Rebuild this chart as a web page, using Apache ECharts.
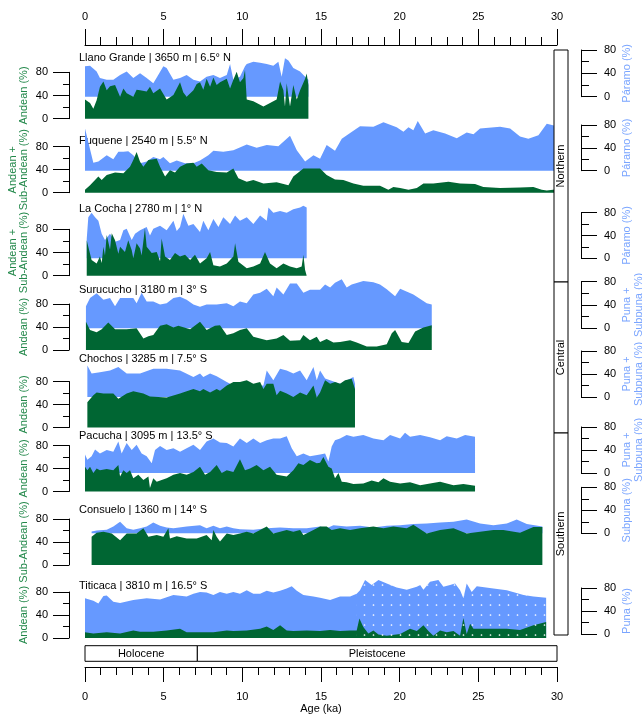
<!DOCTYPE html>
<html><head><meta charset="utf-8">
<script src="https://cdn.jsdelivr.net/npm/echarts/dist/echarts.min.js"></script>
<style>html,body{margin:0;padding:0;background:#fff}#chart{width:642px;height:715px}</style>
</head><body><div id="chart"></div>
<script>
// ---------------- DATA (age ka, percent) ----------------
const siteTitles = ['Llano Grande | 3650 m | 6.5° N','Fuquene | 2540 m | 5.5° N','La Cocha | 2780 m | 1° N','Surucucho | 3180 m | 3° S','Chochos | 3285 m | 7.5° S','Pacucha | 3095 m | 13.5° S','Consuelo | 1360 m | 14° S','Titicaca | 3810 m | 16.5° S'];
const leftNames = ['Andean (%)','Andean +\nSub-Andean (%)','Andean +\nSub-Andean (%)','Andean (%)','Andean (%)','Andean (%)','Sub-Andean (%)','Andean (%)'];
const rightNames = ['Páramo (%)','Páramo (%)','Páramo (%)','Puna +\nSubpuna (%)','Puna +\nSubpuna (%)','Puna +\nSubpuna (%)','Subpuna (%)','Puna (%)'];
const regionNames = ['Northern','Central','Southern'];
const epochNames = ['Holocene','Pleistocene'];
const epochStart = [0, 7.14];
const epochEnd = [7.14, 30];
const axisTicks = [0,5,10,15,20,25,30];

const llanoAndean = [[0,33],[0.32,27],[0.53,17],[0.74,32],[0.95,55],[1.17,64],[1.38,49],[1.59,56],[1.91,58],[2.23,38],[2.44,52],[2.65,44],[3.07,38],[3.28,50],[3.50,49],[3.92,47],[4.13,55],[4.34,44],[4.77,52],[5.19,33],[5.62,41],[6.04,63],[6.25,45],[6.46,38],[6.89,49],[7.10,60],[7.31,63],[7.52,50],[7.73,69],[7.95,55],[8.16,71],[8.37,58],[8.58,63],[9.01,69],[9.22,52],[9.43,67],[9.64,81],[9.85,63],[10.07,70],[10.17,84],[10.28,33],[10.70,30],[11.34,21],[11.76,27],[12.18,33],[12.40,64],[12.61,49],[12.71,21],[12.82,61],[13.03,21],[13.24,58],[13.46,33],[13.67,49],[13.99,69],[14.09,78],[14.20,58]];
const llanoParamo = [[0,52],[0.32,53],[0.74,43],[0.95,32],[1.38,29],[1.80,29],[2.23,37],[2.65,43],[3.07,32],[3.50,40],[3.92,32],[4.34,23],[4.56,33],[4.98,52],[5.19,49],[5.62,29],[6.04,32],[6.46,37],[6.89,29],[7.31,26],[7.73,34],[8.16,37],[8.58,32],[9.01,37],[9.22,56],[9.43,29],[9.85,34],[10.17,52],[10.28,56],[10.70,60],[11.13,58],[11.55,56],[11.97,53],[12.29,60],[12.50,34],[12.71,66],[12.93,62],[13.24,49],[13.67,43],[13.99,34],[14.20,29]];

const fuqueneAndean = [[0,5],[0.32,13],[0.85,28],[1.06,22],[1.38,31],[1.91,35],[2.44,34],[2.86,45],[3.07,57],[3.28,71],[3.50,54],[3.71,45],[4.03,57],[4.56,59],[4.77,45],[5.09,28],[5.40,39],[5.72,35],[6.04,45],[6.46,51],[6.89,52],[7.10,45],[7.42,51],[7.84,39],[8.37,36],[9.01,35],[9.43,42],[9.75,25],[10.28,19],[10.70,22],[11.34,16],[12.18,18],[12.93,13],[13.24,28],[13.88,42],[14.94,42],[15.36,31],[15.89,23],[16.42,22],[17.06,16],[17.69,12],[18.75,12],[19.28,5],[19.60,10],[20.03,8],[20.56,5],[21.09,8],[21.51,16],[22.14,16],[23.10,19],[23.84,16],[24.79,15],[25.32,10],[26.38,8],[27.65,9],[28.50,10],[29.03,5],[29.35,4],[30,6]];
const fuqueneParamo = [[0,74],[0.53,14],[0.85,16],[1.38,27],[1.80,20],[2.12,33],[2.44,33],[2.75,34],[3.07,27],[3.50,13],[3.92,16],[4.34,24],[4.77,20],[4.98,24],[5.40,13],[5.83,18],[6.36,13],[6.89,13],[7.31,18],[7.84,27],[8.16,35],[8.79,33],[9.43,36],[10.28,46],[10.91,40],[11.55,45],[12.29,43],[13.03,61],[13.46,36],[13.99,16],[14.52,27],[14.94,21],[15.36,45],[15.89,35],[16.32,56],[16.85,66],[17.48,78],[18.33,77],[18.97,85],[19.81,76],[20.24,68],[20.56,76],[20.87,71],[21.15,87],[21.62,65],[22.14,71],[22.89,65],[23.63,57],[24.26,67],[24.69,64],[25.11,74],[26.38,77],[27.02,74],[27.65,60],[28.18,56],[28.82,62],[29.35,82],[30,78]];

const cochaAndean = [[0.11,61],[0.21,50],[0.42,27],[0.74,21],[0.95,33],[1.06,22],[1.17,50],[1.27,35],[1.38,70],[1.59,45],[1.70,73],[1.91,61],[2.12,38],[2.23,50],[2.54,41],[2.75,61],[2.97,44],[3.07,30],[3.28,56],[3.50,47],[3.60,35],[3.81,82],[3.92,50],[4.24,39],[4.56,41],[4.77,25],[4.87,64],[5.09,33],[5.40,27],[5.72,39],[6.04,33],[6.36,36],[6.68,27],[6.99,36],[7.31,21],[7.73,30],[7.95,41],[8.16,18],[8.58,16],[9.01,21],[9.43,33],[9.54,56],[9.75,24],[10.28,13],[10.70,16],[11.13,21],[11.44,41],[11.76,21],[12.18,13],[12.61,21],[13.03,16],[13.46,13],[13.77,16],[13.88,36],[13.99,10],[14.09,7]];
const cochaParamo = [[0.11,34],[0.21,72],[0.42,80],[0.64,72],[0.85,66],[1.06,43],[1.27,32],[1.59,43],[1.91,29],[2.23,32],[2.44,49],[2.65,52],[2.97,32],[3.18,43],[3.50,49],[3.92,55],[4.13,40],[4.34,52],[4.77,57],[5.19,49],[5.62,66],[5.83,48],[6.04,55],[6.25,78],[6.57,57],[6.89,60],[7.31,46],[7.52,66],[7.84,49],[8.16,69],[8.48,55],[8.79,72],[9.22,60],[9.54,75],[9.85,66],[10.28,72],[10.70,60],[11.13,75],[11.55,66],[11.66,89],[11.97,80],[12.40,83],[12.82,80],[13.24,86],[13.67,89],[13.88,92],[14.09,89]];

const surucuchoAndean = [[0.06,49],[0.32,35],[0.74,31],[1.06,36],[1.48,48],[1.91,36],[2.65,36],[3.28,38],[3.71,20],[4.03,24],[4.34,26],[4.77,42],[5.19,45],[5.62,39],[5.93,42],[6.68,36],[7.31,49],[7.73,35],[8.26,42],[8.58,43],[9.01,26],[9.43,29],[9.85,35],[10.28,38],[10.70,23],[11.55,17],[12.18,20],[12.61,26],[13.03,16],[13.67,17],[13.88,26],[14.30,17],[14.73,23],[14.94,14],[15.36,19],[15.79,13],[16.21,14],[16.85,17],[17.27,13],[17.91,6],[18.54,6],[19.18,10],[19.50,29],[19.71,35],[20.13,14],[20.56,12],[20.98,32],[21.51,39],[22.04,43]];
const surucuchoPuna = [[0.06,38],[0.32,52],[0.74,60],[1.17,49],[1.59,52],[1.91,38],[2.23,52],[3.07,52],[3.28,43],[3.60,61],[3.92,46],[4.34,46],[4.77,41],[5.19,43],[5.62,52],[6.04,54],[6.46,49],[6.89,41],[7.31,37],[7.73,41],[8.37,41],[9.01,43],[9.43,38],[9.85,46],[10.28,43],[10.70,58],[11.13,61],[11.55,68],[11.97,55],[12.18,70],[12.61,58],[13.03,77],[13.46,77],[13.88,61],[14.30,66],[14.94,66],[15.26,75],[15.58,70],[15.89,78],[16.32,84],[16.63,70],[16.95,75],[17.69,81],[18.33,79],[18.75,75],[19.18,67],[19.71,55],[20.03,68],[20.87,58],[21.72,43],[22.04,41]];

const chochosAndean = [[0.15,44],[0.53,56],[0.74,61],[1.17,59],[1.80,59],[2.12,50],[2.65,59],[3.07,63],[3.71,59],[4.13,54],[5.19,52],[6.04,59],[6.89,67],[7.31,63],[7.52,67],[7.95,61],[8.37,67],[8.58,64],[9.01,73],[9.43,79],[9.85,79],[10.28,82],[10.70,76],[11.13,79],[11.34,67],[11.55,76],[11.97,76],[12.18,56],[12.40,64],[12.82,59],[13.24,53],[13.67,61],[14.09,56],[14.52,73],[14.73,52],[14.94,61],[15.26,82],[15.58,76],[15.89,79],[16.21,76],[16.53,82],[16.95,85],[17.16,67]];
const chochosPuna = [[0.15,55],[0.42,41],[0.95,43],[1.59,46],[2.12,52],[2.65,41],[3.50,41],[4.34,49],[5.19,49],[6.04,46],[6.89,35],[7.31,41],[7.52,35],[7.95,41],[8.37,36],[9.01,26],[9.43,20],[10.28,18],[11.34,20],[11.55,46],[11.97,29],[12.40,49],[12.82,46],[13.24,41],[13.67,46],[14.09,29],[14.52,52],[14.73,29],[14.94,46],[15.26,32],[15.58,29],[16.21,23],[17.06,35],[17.16,23]];

const pacuchaAndean = [[0,43],[0.15,37],[0.32,43],[0.53,32],[0.74,40],[0.95,37],[1.38,39],[1.80,37],[2.12,46],[2.23,26],[2.44,37],[2.65,32],[2.86,37],[3.07,23],[3.39,29],[3.71,20],[4.03,26],[4.13,6],[4.34,23],[4.56,17],[4.87,20],[5.19,23],[5.62,29],[6.04,32],[6.46,29],[6.89,34],[7.31,43],[7.63,29],[7.95,34],[8.37,46],[8.69,32],[9.01,37],[9.43,34],[9.85,56],[10.17,37],[10.49,40],[10.91,46],[11.34,37],[11.76,43],[12.18,29],[12.82,26],[13.24,37],[13.56,49],[13.88,46],[14.30,55],[14.73,49],[14.94,50],[15.15,60],[15.47,43],[15.68,40],[15.89,23],[16.11,32],[16.32,17],[16.63,16],[17.06,13],[17.69,14],[18.22,19],[18.65,16],[18.97,23],[19.39,17],[20.03,14],[20.66,16],[21.30,11],[21.93,14],[22.57,17],[23.42,11],[24.05,13],[24.79,10]];
const pacuchaPuna = [[0,32],[0.15,23],[0.42,29],[0.64,41],[0.95,34],[1.38,40],[1.80,37],[2.12,55],[2.33,34],[2.65,52],[2.97,40],[3.28,49],[3.60,34],[3.92,29],[4.24,17],[4.45,40],[4.77,47],[5.19,40],[5.62,43],[6.04,37],[6.46,43],[6.89,49],[7.31,40],[7.73,55],[8.16,60],[8.58,53],[9.01,52],[9.43,46],[9.85,60],[10.28,52],[10.70,60],[11.13,52],[11.55,57],[11.97,60],[12.40,60],[12.82,64],[13.14,43],[13.46,29],[13.88,34],[14.30,29],[14.94,32],[15.26,34],[15.47,20],[15.68,46],[15.89,57],[16.21,60],[16.63,66],[17.06,63],[17.69,66],[18.33,60],[18.97,57],[19.39,66],[20.03,60],[20.34,70],[20.66,63],[21.30,66],[21.93,62],[22.57,57],[22.99,64],[23.63,60],[24.16,66],[24.79,63]];

const consueloSubAndean = [[0.42,49],[0.74,56],[1.17,58],[1.70,55],[2.23,43],[2.65,55],[3.28,55],[3.71,64],[4.03,49],[4.56,52],[4.98,49],[5.30,64],[5.40,46],[5.83,50],[6.46,46],[7.10,46],[7.73,52],[8.05,43],[8.16,61],[8.37,49],[8.58,41],[9.01,55],[9.43,52],[9.85,55],[10.28,58],[10.70,55],[11.13,61],[11.55,67],[11.97,55],[12.40,58],[12.82,61],[13.24,58],[13.67,61],[13.88,52],[14.30,58],[14.73,64],[14.94,67],[15.36,67],[15.68,61],[16.21,64],[16.85,61],[17.48,64],[18.33,67],[18.97,64],[19.60,67],[20.45,64],[20.87,70],[21.72,55],[22.57,61],[23.42,64],[24.26,55],[25.11,58],[25.96,61],[26.59,61],[27.65,56],[28.50,66],[29.07,66]];
const consueloSubpuna = [[0.42,3],[0.74,5],[1.38,6],[1.80,12],[2.23,20],[2.65,9],[3.07,6],[3.50,9],[3.92,12],[4.34,19],[4.77,13],[5.19,10],[5.62,9],[6.46,12],[7.31,14],[7.73,9],[8.16,13],[8.58,9],[9.01,12],[9.43,9],[9.85,7],[10.70,6],[11.55,9],[12.40,10],[13.24,9],[14.09,9],[14.94,12],[15.36,9],[15.79,14],[16.63,12],[17.48,13],[18.33,10],[19.18,13],[20.03,14],[20.87,16],[21.72,17],[22.57,19],[23.42,20],[24.26,24],[25.11,17],[25.96,14],[26.81,17],[27.44,24],[28.08,16],[29.07,12]];

const titicacaAndean = [[0,10],[0.53,8],[1.38,10],[2.23,8],[3.07,13],[3.50,11],[4.34,11],[5.19,13],[6.04,16],[6.46,10],[7.31,10],[8.16,10],[9.01,13],[9.43,12],[10.28,13],[11.13,16],[11.55,20],[11.97,14],[12.40,22],[12.82,13],[13.24,12],[14.09,13],[14.94,12],[15.58,14],[16.21,12],[16.85,13],[17.27,13],[17.44,34],[17.69,19],[18.01,8],[18.33,13],[18.65,6],[19.18,4],[20.03,7],[20.66,16],[21.09,12],[21.51,22],[21.83,12],[22.14,4],[22.57,13],[22.99,10],[23.42,12],[23.84,4],[24.05,35],[24.26,7],[24.48,25],[24.69,16],[25.54,16],[26.81,16],[27.65,14],[28.50,22],[29.31,28]];
const titicacaPuna = [[0,69],[0.53,65],[0.85,60],[1.17,73],[1.38,74],[1.80,63],[2.23,61],[3.07,66],[3.92,69],[4.77,67],[5.62,75],[6.46,72],[6.89,77],[7.31,80],[7.73,79],[8.16,75],[8.58,80],[9.01,77],[9.43,80],[9.85,77],[10.28,83],[10.70,77],[11.13,77],[11.55,82],[11.97,79],[12.40,82],[12.82,86],[13.14,90],[13.46,82],[13.88,75],[14.52,72],[14.94,70],[15.58,66],[16.21,72],[16.85,72],[17.27,77],[17.48,83],[17.80,101],[18.22,92],[18.65,101],[19.18,95],[19.81,88],[20.45,84],[21.09,89],[21.30,92],[21.51,84],[21.93,98],[22.46,101],[22.78,89],[23.20,92],[23.52,95],[23.84,83],[24.05,69],[24.26,95],[24.58,80],[24.90,90],[25.96,86],[26.81,83],[27.87,75],[28.50,72],[29.31,70]];
const titicacaDottedFrom = 17.2;

const andeanSets = [llanoAndean, fuqueneAndean, cochaAndean, surucuchoAndean, chochosAndean, pacuchaAndean, consueloSubAndean, titicacaAndean];
const upperSets = [llanoParamo, fuqueneParamo, cochaParamo, surucuchoPuna, chochosPuna, pacuchaPuna, consueloSubpuna, titicacaPuna];

// ---------------- LAYOUT ----------------
const X0 = 85, XW = 472;
const leftAxisPx = [[72.3,118.7],[146.7,192.7],[229.3,275.7],[304,350],[381.5,427.5],[445.5,491.5],[519,565],[592,638]];
const rightAxisPx = [[50,96.7],[125,170.7],[212.7,258.3],[281.7,328.3],[351,397],[427,473],[487.3,533.3],[588,634]];
const titleY = [58,141,209,290,359,436,510,586];
const regionPx = [[50,282],[282,433],[433,635]];

const GREEN = '#006633', BLUE = '#6699ff', GREEN_TXT = '#22884a', BLUE_TXT = '#7aa5ff';
const FONT = '"Liberation Sans", Arial, Helvetica, sans-serif';

const dot = document.createElement('canvas');
dot.width = 9; dot.height = 10;
(function(){const c = dot.getContext('2d'); c.fillStyle = '#ffffff'; c.beginPath(); c.arc(4.5,5,0.85,0,Math.PI*2); c.fill();})();

const grids = [], xAxes = [], yAxes = [], series = [], graphics = [];
function hiddenX(g){ return {gridIndex:g, type:'value', min:0, max:30, show:false}; }
function yAx(g, side){
  const left = side === 'left';
  return {gridIndex:g, type:'value', min:0, max:80, interval:40, position:side, offset:left?16:24,
    axisLine:{show:true, onZero:false, lineStyle:{color:'#000', width:1}},
    axisTick:{show:true, length:16, lineStyle:{color:'#000', width:1}},
    minorTick:{show:true, splitNumber:2, length:left?6:8, lineStyle:{color:'#000', width:1}},
    axisLabel:{margin:left?21:23, color:'#000', fontSize:11, fontFamily:FONT},
    splitLine:{show:false}, minorSplitLine:{show:false}};
}

for (let i = 0; i < 8; i++) {
  const gL = grids.length;
  grids.push({left:X0, width:XW, top:leftAxisPx[i][0], height:leftAxisPx[i][1]-leftAxisPx[i][0]});
  xAxes.push(hiddenX(gL)); yAxes.push(yAx(gL,'left'));
  const gR = grids.length;
  grids.push({left:X0, width:XW, top:rightAxisPx[i][0], height:rightAxisPx[i][1]-rightAxisPx[i][0]});
  xAxes.push(hiddenX(gR)); yAxes.push(yAx(gR,'right'));
  const upperGrid = (i === 7) ? gL : gR;
  series.push({type:'line', xAxisIndex:upperGrid, yAxisIndex:upperGrid, data:upperSets[i], symbol:'none', clip:false, silent:true,
    lineStyle:{width:0, opacity:0}, areaStyle:{color:BLUE, opacity:1}, z:2});
  series.push({type:'line', xAxisIndex:gL, yAxisIndex:gL, data:andeanSets[i], symbol:'none', clip:false, silent:true,
    lineStyle:{width:0, opacity:0}, areaStyle:{color:GREEN, opacity:1}, z:3});
  if (i === 7) {
    series.push({type:'line', xAxisIndex:gL, yAxisIndex:gL, data:titicacaPuna.filter(p => p[0] >= titicacaDottedFrom), symbol:'none', clip:false, silent:true,
      lineStyle:{width:0, opacity:0}, areaStyle:{color:{image:dot, repeat:'repeat'}, opacity:1}, z:4});
  }
  // titles
  graphics.push({type:'text', x:79, y:titleY[i], style:{text:siteTitles[i], fill:'#000', font:'11px '+FONT, align:'left', verticalAlign:'middle'}});
  // axis names
  const lMid = (leftAxisPx[i][0]+leftAxisPx[i][1])/2, rMid = (rightAxisPx[i][0]+rightAxisPx[i][1])/2;
  const lTwo = leftNames[i].indexOf('\n') >= 0, rTwo = rightNames[i].indexOf('\n') >= 0;
  graphics.push({type:'text', x:lTwo?18.5:24, y:lMid, rotation:Math.PI/2, style:{text:leftNames[i], fill:GREEN_TXT, font:'11px '+FONT, align:'center', verticalAlign:'middle', lineHeight:11}});
  graphics.push({type:'text', x:rTwo?632.5:627, y:rMid, rotation:Math.PI/2, style:{text:rightNames[i], fill:BLUE_TXT, font:'11px '+FONT, align:'center', verticalAlign:'middle', lineHeight:12}});
}

// top axis
const gTop = grids.length;
grids.push({left:X0, width:XW, top:45, height:1});
xAxes.push({gridIndex:gTop, type:'value', min:0, max:30, interval:5, position:'top',
  axisLine:{show:true, onZero:false, lineStyle:{color:'#000'}}, axisTick:{show:true, length:16, lineStyle:{color:'#000'}},
  minorTick:{show:true, splitNumber:5, length:8, lineStyle:{color:'#000'}},
  axisLabel:{margin:23, color:'#000', fontSize:11, fontFamily:FONT, formatter:v => axisTicks.indexOf(v)>=0 ? String(v) : ''}, splitLine:{show:false}});
yAxes.push({gridIndex:gTop, type:'value', show:false});
// bottom axis
const gBot = grids.length;
grids.push({left:X0, width:XW, top:666.3, height:1});
xAxes.push({gridIndex:gBot, type:'value', min:0, max:30, interval:5, position:'bottom', name:'Age (ka)', nameLocation:'middle', nameGap:36,
  nameTextStyle:{color:'#000', fontSize:11, fontFamily:FONT},
  axisLine:{show:true, onZero:false, lineStyle:{color:'#000'}}, axisTick:{show:true, length:15, lineStyle:{color:'#000'}},
  minorTick:{show:true, splitNumber:5, length:8, lineStyle:{color:'#000'}},
  axisLabel:{margin:24, color:'#000', fontSize:11, fontFamily:FONT}, splitLine:{show:false}});
yAxes.push({gridIndex:gBot, type:'value', show:false});
// epoch bar
const gEp = grids.length;
grids.push({left:X0, width:XW, top:645.7, height:15.6});
xAxes.push(hiddenX(gEp));
yAxes.push({gridIndex:gEp, type:'value', min:0, max:1, show:false});
series.push({type:'custom', xAxisIndex:gEp, yAxisIndex:gEp, silent:true, z:5,
  data: epochStart.map((s,k) => [s, epochEnd[k]]),
  encode:{x:[0,1]},
  renderItem:function(params, api){
    const a = api.coord([api.value(0), 1]), b = api.coord([api.value(1), 0]);
    return {type:'group', children:[
      {type:'rect', shape:{x:a[0], y:a[1], width:b[0]-a[0], height:b[1]-a[1]}, style:{fill:'#fff', stroke:'#000', lineWidth:1}},
      {type:'text', style:{text:epochNames[params.dataIndex], x:(a[0]+b[0])/2, y:(a[1]+b[1])/2, align:'center', verticalAlign:'middle', fill:'#000', font:'11px '+FONT}}
    ]};
  }});

// region boxes
regionPx.forEach((r,k) => {
  graphics.push({type:'rect', shape:{x:554, y:r[0], width:14, height:r[1]-r[0]}, style:{fill:'#fff', stroke:'#000', lineWidth:1}, z:10});
  graphics.push({type:'text', x:561, y:(r[0]+r[1])/2, rotation:Math.PI/2, z:11, style:{text:regionNames[k], fill:'#000', font:'11px '+FONT, align:'center', verticalAlign:'middle'}});
});

const chart = echarts.init(document.getElementById('chart'), null, {renderer:'canvas'});
chart.setOption({animation:false, backgroundColor:'#fff', grid:grids, xAxis:xAxes, yAxis:yAxes, series:series, graphic:{elements:graphics}});
</script></body></html>
